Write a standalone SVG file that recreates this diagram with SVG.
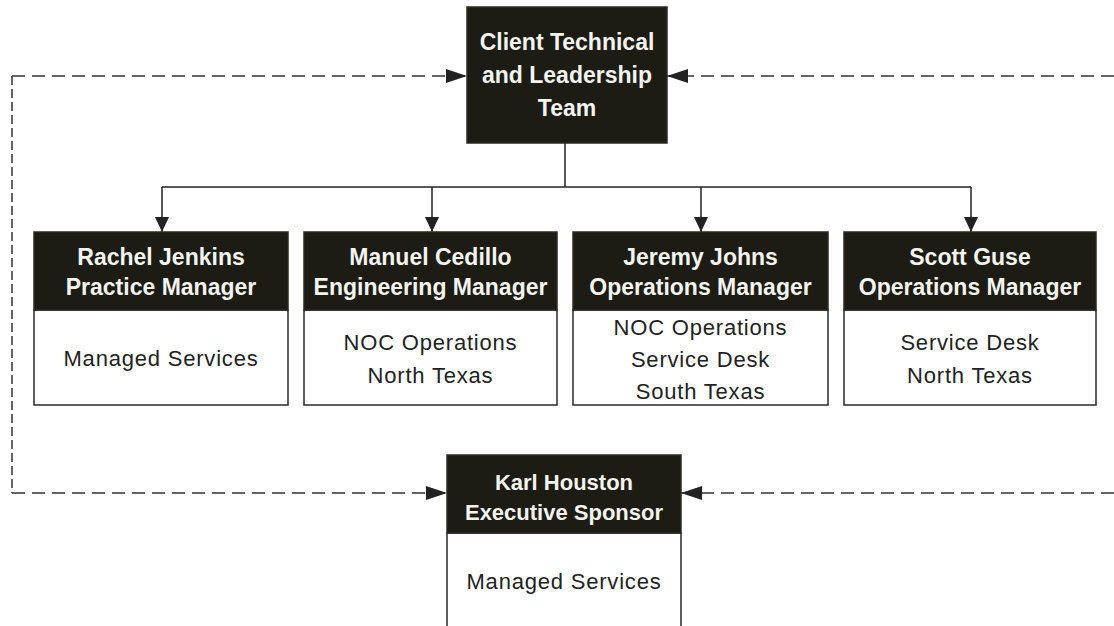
<svg xmlns="http://www.w3.org/2000/svg" width="1114" height="626" viewBox="0 0 1114 626">
<defs>
<style>
.hdr{fill:#1c1c14;stroke:#2a2a22;stroke-width:1.5}
.body{fill:#ffffff;stroke:#2a2a2a;stroke-width:1.5}
.ht{font-family:"Liberation Sans",Arial,sans-serif;font-weight:bold;font-size:23px;fill:#f4f4f0;text-anchor:middle}
.bt{font-family:"Liberation Sans",Arial,sans-serif;font-size:22px;letter-spacing:0.8px;fill:#222;text-anchor:middle}
.solid{fill:none;stroke:#222;stroke-width:1.5}
.dash{fill:none;stroke:#333;stroke-width:1.5;stroke-dasharray:13 7}
.dashv{fill:none;stroke:#333;stroke-width:1.5;stroke-dasharray:9 4}
</style>
<marker id="ah" markerUnits="userSpaceOnUse" markerWidth="16" markerHeight="16" refX="15" refY="7" orient="auto">
<path d="M0,0 L15,7 L0,14 z" fill="#222"/>
</marker>
<marker id="ahd" markerUnits="userSpaceOnUse" markerWidth="22" markerHeight="16" refX="21" refY="7" orient="auto">
<path d="M0,0 L21,7 L0,14 z" fill="#222"/>
</marker>
</defs>
<rect width="1114" height="626" fill="#ffffff"/>

<g id="connectors">
<path class="solid" d="M565,143 L565,187"/>
<path class="solid" d="M162,187 L971,187"/>
<path class="solid" d="M162,187 L162,232" marker-end="url(#ah)"/>
<path class="solid" d="M432,187 L432,232" marker-end="url(#ah)"/>
<path class="solid" d="M701,187 L701,232" marker-end="url(#ah)"/>
<path class="solid" d="M971,187 L971,232" marker-end="url(#ah)"/>
<path class="dash" d="M12,76 L467,76" marker-end="url(#ahd)"/>
<path class="dash" d="M1114,76 L667,76" marker-end="url(#ahd)"/>
<path class="dashv" d="M12,76 L12,493"/>
<path class="dash" d="M12,493 L447,493" marker-end="url(#ahd)"/>
<path class="dash" d="M1114,493 L681,493" marker-end="url(#ahd)"/>
</g>

<g id="client-team">
<rect class="hdr" x="467" y="7" width="200" height="136"/>
<text class="ht" x="567" y="50">Client Technical</text>
<text class="ht" x="567" y="83">and Leadership</text>
<text class="ht" x="567" y="116">Team</text>
</g>

<g id="rachel-jenkins">
<rect class="body" x="34" y="310" width="254" height="95"/>
<rect class="hdr" x="34" y="232" width="254" height="78"/>
<text class="ht" x="161" y="265">Rachel Jenkins</text>
<text class="ht" x="161" y="295">Practice Manager</text>
<text class="bt" x="161" y="366">Managed Services</text>
</g>

<g id="manuel-cedillo">
<rect class="body" x="304" y="310" width="253" height="95"/>
<rect class="hdr" x="304" y="232" width="253" height="78"/>
<text class="ht" x="430.5" y="265">Manuel Cedillo</text>
<text class="ht" x="430.5" y="295">Engineering Manager</text>
<text class="bt" x="430.5" y="350">NOC Operations</text>
<text class="bt" x="430.5" y="383">North Texas</text>
</g>

<g id="jeremy-johns">
<rect class="body" x="573" y="310" width="255" height="95"/>
<rect class="hdr" x="573" y="232" width="255" height="78"/>
<text class="ht" x="700.5" y="265">Jeremy Johns</text>
<text class="ht" x="700.5" y="295">Operations Manager</text>
<text class="bt" x="700.5" y="335">NOC Operations</text>
<text class="bt" x="700.5" y="367">Service Desk</text>
<text class="bt" x="700.5" y="399">South Texas</text>
</g>

<g id="scott-guse">
<rect class="body" x="844" y="310" width="252" height="95"/>
<rect class="hdr" x="844" y="232" width="252" height="78"/>
<text class="ht" x="970" y="265">Scott Guse</text>
<text class="ht" x="970" y="295">Operations Manager</text>
<text class="bt" x="970" y="350">Service Desk</text>
<text class="bt" x="970" y="383">North Texas</text>
</g>

<g id="karl-houston">
<rect class="body" x="447" y="533" width="234" height="110"/>
<rect class="hdr" x="447" y="455" width="234" height="78"/>
<text class="ht" x="564" y="490" style="font-size:22px">Karl Houston</text>
<text class="ht" x="564" y="520" style="font-size:22px">Executive Sponsor</text>
<text class="bt" x="564" y="589">Managed Services</text>
</g>
</svg>
